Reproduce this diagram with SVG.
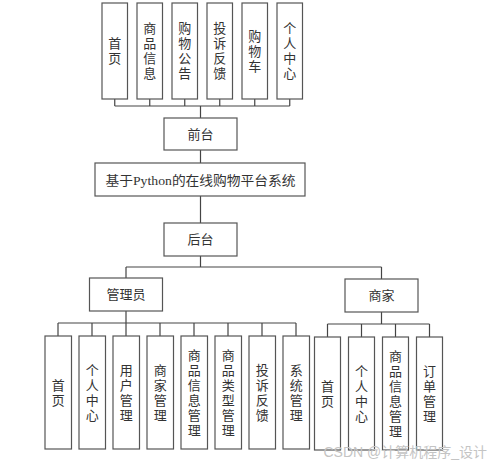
<svg xmlns="http://www.w3.org/2000/svg" width="500" height="467" viewBox="0 0 500 467">
<style>
.b{fill:#fff;stroke:#555;stroke-width:1.2}
.t{font-family:"Noto Sans CJK SC","Liberation Sans",sans-serif;font-size:13px;fill:#333;text-anchor:middle}
.v{font-family:"Noto Sans CJK SC","Liberation Sans",sans-serif;font-size:13px;fill:#333;text-anchor:middle;writing-mode:vertical-rl;letter-spacing:2px}
.c{fill:none;stroke:#444;stroke-width:1.2}
</style>
<rect width="500" height="467" fill="#fff"/>
<g id="connectors" class="c">
<path d="M114.75 99V106M149.75 99V106M184.75 99V106M219.75 99V106M254.75 99V106M289.75 99V106M114.75 106H289.75"/>
<path d="M200.5 106V118M200.5 150V163M200.5 196V223M200.5 256V267M126 267H381.5M126 267V278M381.5 267V279"/>
<path d="M126 311V323M58 323H296M58 323V336M92 323V336M126 323V336M160 323V336M194 323V336M228 323V336M262 323V336M296 323V336"/>
<path d="M381.5 312V324M327.5 324H429.5M327.5 324V337M361.5 324V337M395.5 324V337M429.5 324V337"/>
</g>
<g id="f1"><rect class="b" x="102" y="3" width="25.5" height="96"/><text class="v" x="114.75" y="52">首页</text></g>
<g id="f2"><rect class="b" x="137" y="3" width="25.5" height="96"/><text class="v" x="149.75" y="52">商品信息</text></g>
<g id="f3"><rect class="b" x="172" y="3" width="25.5" height="96"/><text class="v" x="184.75" y="52">购物公告</text></g>
<g id="f4"><rect class="b" x="207" y="3" width="25.5" height="96"/><text class="v" x="219.75" y="52">投诉反馈</text></g>
<g id="f5"><rect class="b" x="242" y="3" width="25.5" height="96"/><text class="v" x="254.75" y="52">购物车</text></g>
<g id="f6"><rect class="b" x="277" y="3" width="25.5" height="96"/><text class="v" x="289.75" y="52">个人中心</text></g>
<g id="front"><rect class="b" x="164" y="118" width="73" height="32"/><text class="t" x="200.5" y="139">前台</text></g>
<g id="system"><rect class="b" x="95" y="163" width="210" height="33"/><text x="200.5" y="184.5" font-family="'Liberation Serif','Noto Sans CJK SC',serif" font-size="13" fill="#333" text-anchor="middle" textLength="190" lengthAdjust="spacingAndGlyphs">基于Python的在线购物平台系统</text></g>
<g id="back"><rect class="b" x="164" y="223" width="73" height="33"/><text class="t" x="200.5" y="244">后台</text></g>
<g id="admin"><rect class="b" x="89.5" y="278" width="73" height="33"/><text class="t" x="126" y="299">管理员</text></g>
<g id="merchant"><rect class="b" x="345" y="279" width="73" height="33"/><text class="t" x="381.5" y="300">商家</text></g>
<g id="a1"><rect class="b" x="45" y="336" width="26.5" height="113"/><text class="v" x="58.25" y="393.5">首页</text></g>
<g id="a2"><rect class="b" x="79" y="336" width="26.5" height="113"/><text class="v" x="92.25" y="393.5">个人中心</text></g>
<g id="a3"><rect class="b" x="113" y="336" width="26.5" height="113"/><text class="v" x="126.25" y="393.5">用户管理</text></g>
<g id="a4"><rect class="b" x="147" y="336" width="26.5" height="113"/><text class="v" x="160.25" y="393.5">商家管理</text></g>
<g id="a5"><rect class="b" x="181" y="336" width="26.5" height="113"/><text class="v" x="194.25" y="393.5">商品信息管理</text></g>
<g id="a6"><rect class="b" x="215" y="336" width="26.5" height="113"/><text class="v" x="228.25" y="393.5">商品类型管理</text></g>
<g id="a7"><rect class="b" x="249" y="336" width="26.5" height="113"/><text class="v" x="262.25" y="393.5">投诉反馈</text></g>
<g id="a8"><rect class="b" x="283" y="336" width="26.5" height="113"/><text class="v" x="296.25" y="393.5">系统管理</text></g>
<g id="m1"><rect class="b" x="314.5" y="337" width="26" height="113"/><text class="v" x="327.5" y="394.5">首页</text></g>
<g id="m2"><rect class="b" x="348.5" y="337" width="26" height="113"/><text class="v" x="361.5" y="394.5">个人中心</text></g>
<g id="m3"><rect class="b" x="382.5" y="337" width="26" height="113"/><text class="v" x="395.5" y="394.5">商品信息管理</text></g>
<g id="m4"><rect class="b" x="416.5" y="337" width="26" height="113"/><text class="v" x="429.5" y="394.5">订单管理</text></g>
<text x="487" y="457" font-family="'Liberation Sans','Noto Sans CJK SC',sans-serif" font-size="14" fill="#c4c4c4" text-anchor="end">CSDN @计算机程序_设计</text>
</svg>
